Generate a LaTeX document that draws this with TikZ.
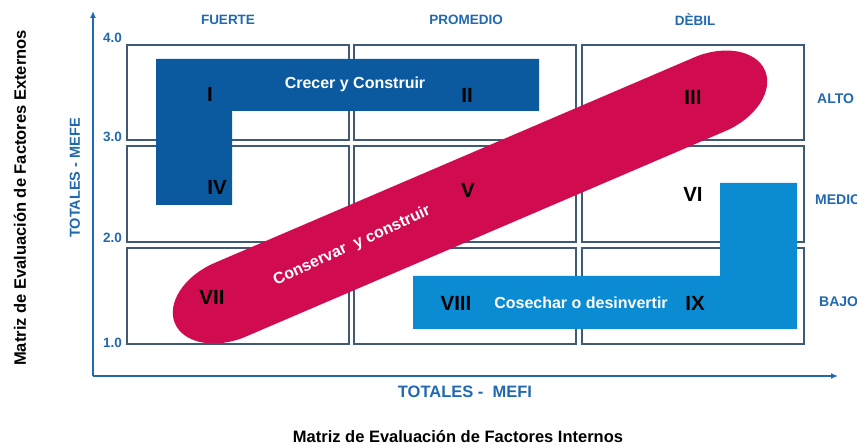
\documentclass[tikz,border=0pt]{standalone}
\usepackage{fontspec}
\setmainfont{Liberation Sans}
\usetikzlibrary{arrows.meta}
\definecolor{axisblue}{HTML}{2068B0}
\definecolor{darkfill}{HTML}{0B5AA0}
\definecolor{lightfill}{HTML}{0A8BD2}
\definecolor{crimson}{HTML}{D00B50}
\definecolor{gridcol}{HTML}{3E5A75}
\tikzset{
  cell/.style={draw=gridcol, line width=1.1pt},
  heading/.style={text=axisblue, font=\bfseries\fontsize{13.5}{15}\selectfont, inner sep=0pt},
  ticklbl/.style={text=axisblue, font=\bfseries\fontsize{13.5}{15}\selectfont, inner sep=0pt, anchor=east},
  rowlbl/.style={text=axisblue, font=\bfseries\fontsize{14}{16}\selectfont, inner sep=0pt, anchor=west},
  numeral/.style={text=black, font=\bfseries\fontsize{20.5}{22}\selectfont, inner sep=0pt},
  bandtext/.style={text=white, font=\bfseries\fontsize{16}{18}\selectfont, inner sep=0pt},
  axisline/.style={draw=axisblue, line width=1.8pt, -{Latex[length=7pt,width=6pt]}},
  title/.style={text=black, font=\bfseries\fontsize{16.5}{18}\selectfont, inner sep=0pt},
}
\begin{document}
\begin{tikzpicture}[x=1pt,y=-1pt]
\useasboundingbox (0,0) rectangle (857,446);
\clip (0,0) rectangle (857,446);
% grid cells
\foreach \xa/\xb/\nm in {127/349/a,354/576/b,582/804/c}{
  \foreach \ya/\yb/\rn in {45/140/1,146/242/2,248/344/3}{
    \path[cell] (\xa,\ya) rectangle (\xb,\yb);
  }
}
% axes
\coordinate (origin) at (93,376);
\coordinate (ytip) at (93,11);
\coordinate (xtip) at (838,376);
\draw[axisline] (origin) -- (ytip);
\draw[axisline] (origin) -- (xtip);
% dark blue L
\fill[darkfill] (156,59) -- (539,59) -- (539,111) -- (232,111) -- (232,205) -- (156,205) -- cycle;
% light blue L
\fill[lightfill] (720,183) -- (797,183) -- (797,329) -- (413,329) -- (413,276) -- (720,276) -- cycle;
% crimson band
\begin{scope}[shift={(470,197)}, rotate=23.2]
\fill[crimson] (-261,-40) -- (261,-40)
  .. controls (294,-40) and (321,-22) .. (321,0)
  .. controls (321,22) and (294,40) .. (261,40)
  -- (-261,40)
  .. controls (-294,40) and (-321,22) .. (-321,0)
  .. controls (-321,-22) and (-294,-40) .. (-261,-40) -- cycle;
\end{scope}
% texts in bands
\node[bandtext] (crecer) at (355,84) {Crecer y Construir};
\node[bandtext] (cosechar) at (581,303) {Cosechar o desinvertir};
\node[bandtext, rotate=24.5] (conservar) at (352,246) {Conservar\ \ y construir};
% numerals
\node[numeral] (n1) at (210,94) {I};
\node[numeral] (n2) at (467,95) {II};
\node[numeral] (n3) at (693,97) {III};
\node[numeral] (n4) at (217,187) {IV};
\node[numeral] (n5) at (468,190) {V};
\node[numeral] (n6) at (693,194) {VI};
\node[numeral] (n7) at (212,297) {VII};
\node[numeral] (n8) at (456,303) {VIII};
\node[numeral] (n9) at (695,303) {IX};
% headings
\node[heading] (h1) at (228,20) {FUERTE};
\node[heading] (h2) at (466,20) {PROMEDIO};
\node[heading] (h3) at (695,20) {DÈBIL};
% row labels
\node[rowlbl] (r1) at (817,99) {ALTO};
\node[rowlbl] (r2) at (815,200) {MEDIO};
\node[rowlbl] (r3) at (819,302) {BAJO};
% tick labels
\node[ticklbl] (t4) at (122,38) {4.0};
\node[ticklbl] (t3) at (122,137) {3.0};
\node[ticklbl] (t2) at (122,238) {2.0};
\node[ticklbl] (t1) at (122,343) {1.0};
% axis titles
\node[text=axisblue, font=\bfseries\fontsize{16.5}{18}\selectfont, inner sep=0pt] (xt) at (465,392) {TOTALES -\ \ MEFI};
\node[text=axisblue, font=\bfseries\fontsize{14.5}{16}\selectfont, inner sep=0pt, rotate=90] (yt) at (75,178) {TOTALES - MEFE};
\node[title] (bt) at (458,437) {Matriz de Evaluación de Factores Internos};
\node[title, rotate=90] (lt) at (20,198) {Matriz de Evaluación de Factores Externos};
\end{tikzpicture}
\end{document}
